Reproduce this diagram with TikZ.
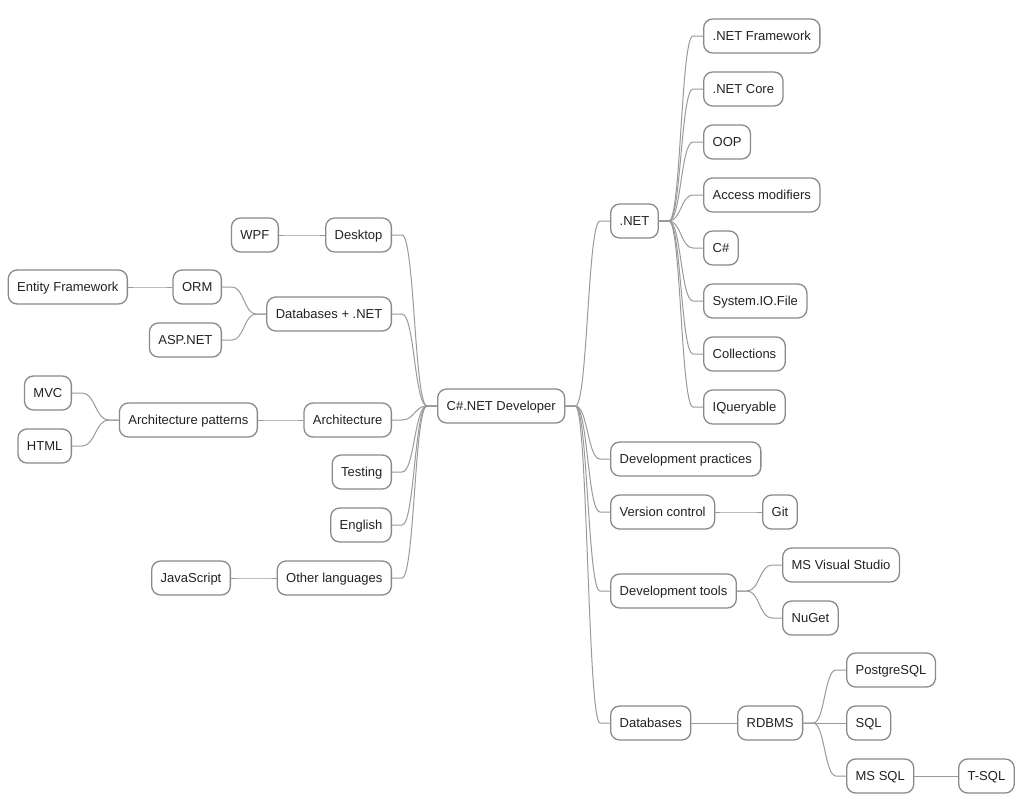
\documentclass[tikz,border=0pt]{standalone}
\usepackage{fontspec}
\setmainfont{Liberation Sans}
\usetikzlibrary{calc}
\definecolor{bx}{HTML}{8A8A8A}
\definecolor{ln}{HTML}{9A9A9A}
\definecolor{tx}{HTML}{222222}
\tikzset{
  mm/.style={draw=bx, line width=1.3pt, rounded corners=9pt, fill=white,
    minimum height=34pt, inner xsep=9pt, inner ysep=0pt, text=tx,
    text height=9.3pt, text depth=-0.6pt,
    font=\fontsize{13}{15}\selectfont},
  rn/.style={mm, anchor=west},
  lf/.style={mm, anchor=east},
  conn/.style={draw=ln, line width=1pt}
}
\newcommand\lnkR[2]{%
  \coordinate (A) at ($(#1.east)+(10,0)$);
  \coordinate (B) at ($(#2.west)+(-10,0)$);
  \coordinate (M) at ($(A)!0.5!(B)$);
  \draw[conn] (#1.east) -- (A) .. controls (M|-A) and (M|-B) .. (B) -- (#2.west);}
\newcommand\lnkL[2]{%
  \coordinate (A) at ($(#1.west)+(-10,0)$);
  \coordinate (B) at ($(#2.east)+(10,0)$);
  \coordinate (M) at ($(A)!0.5!(B)$);
  \draw[conn] (#1.west) -- (A) .. controls (M|-A) and (M|-B) .. (B) -- (#2.east);}
\begin{document}
\begin{tikzpicture}[x=1pt,y=-1pt]
\useasboundingbox[fill=white] (0,0) rectangle (1024,803);
% root
\node[mm, anchor=west] (root) at (437,406) {C\#.NET Developer};
% right level 1
\node[rn] (net) at (610,221) {.NET};
\node[rn] (dp) at (610,459) {Development practices};
\node[rn] (vc) at (610,512) {Version control};
\node[rn] (dt) at (610,591) {Development tools};
\node[rn] (db) at (610,723) {Databases};
% .NET children
\node[rn] (nf) at (703,36) {.NET Framework};
\node[rn] (nc) at (703,89) {.NET Core};
\node[rn] (oop) at (703,142) {OOP};
\node[rn] (am) at (703,195) {Access modifiers};
\node[rn] (cs) at (703,248) {C\#};
\node[rn] (sio) at (703,301) {System.IO.File};
\node[rn] (col) at (703,354) {Collections};
\node[rn] (iq) at (703,407) {IQueryable};
% others right
\node[rn] (git) at (762,512) {Git};
\node[rn] (msvs) at (782,565) {MS Visual Studio};
\node[rn] (nuget) at (782,618) {NuGet};
\node[rn] (rdbms) at (737,723) {RDBMS};
\node[rn] (pg) at (846,670) {PostgreSQL};
\node[rn] (sql) at (846,723) {SQL};
\node[rn] (mssql) at (846,776) {MS SQL};
\node[rn] (tsql) at (958,776) {T-SQL};
% left level 1
\node[lf] (desk) at (392,235) {Desktop};
\node[lf] (dbn) at (392,314) {Databases + .NET};
\node[lf] (arch) at (392,420) {Architecture};
\node[lf] (test) at (392,472) {Testing};
\node[lf] (eng) at (392,525) {English};
\node[lf] (ol) at (392,578) {Other languages};
% left deeper
\node[lf] (wpf) at (279,235) {WPF};
\node[lf] (orm) at (222,287) {ORM};
\node[lf] (asp) at (222,340) {ASP.NET};
\node[lf] (ef) at (128,287) {Entity Framework};
\node[lf] (ap) at (258,420) {Architecture patterns};
\node[lf] (mvc) at (72,393) {MVC};
\node[lf] (html) at (72,446) {HTML};
\node[lf] (js) at (231,578) {JavaScript};
% connectors right
\lnkR{root}{net}
\lnkR{root}{dp}
\lnkR{root}{vc}
\lnkR{root}{dt}
\lnkR{root}{db}
\lnkR{net}{nf}
\lnkR{net}{nc}
\lnkR{net}{oop}
\lnkR{net}{am}
\lnkR{net}{cs}
\lnkR{net}{sio}
\lnkR{net}{col}
\lnkR{net}{iq}
\lnkR{vc}{git}
\lnkR{dt}{msvs}
\lnkR{dt}{nuget}
\lnkR{db}{rdbms}
\lnkR{rdbms}{pg}
\lnkR{rdbms}{sql}
\lnkR{rdbms}{mssql}
\lnkR{mssql}{tsql}
% connectors left
\lnkL{root}{desk}
\lnkL{root}{dbn}
\lnkL{root}{arch}
\lnkL{root}{test}
\lnkL{root}{eng}
\lnkL{root}{ol}
\lnkL{desk}{wpf}
\lnkL{dbn}{orm}
\lnkL{dbn}{asp}
\lnkL{orm}{ef}
\lnkL{arch}{ap}
\lnkL{ap}{mvc}
\lnkL{ap}{html}
\lnkL{ol}{js}
\end{tikzpicture}
\end{document}
